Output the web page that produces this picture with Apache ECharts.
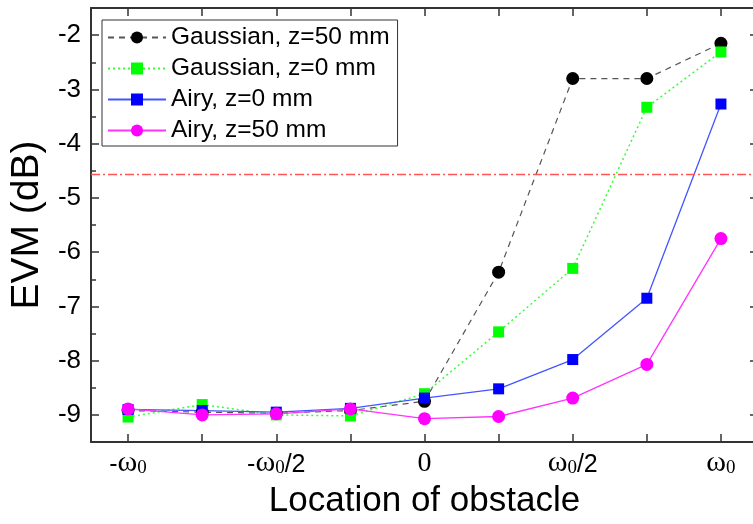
<!DOCTYPE html>
<html><head><meta charset="utf-8">
<script src="https://cdn.jsdelivr.net/npm/echarts@6/dist/echarts.min.js"></script>
<style>html,body{margin:0;padding:0;background:#fff;overflow:hidden;width:753px;height:524px}#c{width:760px;height:524px}</style>
</head><body><div id="c"></div>
<script>
// x positions in units of ω0/4
const xPositions = [-4, -3, -2, -1, 0, 1, 2, 3, 4];
const xTickValues = [-4, -2, 0, 2, 4];
const xTickLabels = ['-ω₀', '-ω₀/2', '0', 'ω₀/2', 'ω₀'];
const yTickValues = [-9, -8, -7, -6, -5, -4, -3, -2];
const yMinorValues = [-8.5, -7.5, -6.5, -5.5, -4.5, -3.5, -2.5];
const seriesNames = ['Gaussian, z=50 mm', 'Gaussian, z=0 mm', 'Airy, z=0 mm', 'Airy, z=50 mm'];
const gauss50 = [-8.92, -8.95, -8.97, -8.92, -8.75, -6.37, -2.80, -2.80, -2.15];
const gauss0 = [-9.04, -8.81, -9.00, -9.02, -8.61, -7.47, -6.30, -3.33, -2.31];
const airy0 = [-8.90, -8.92, -8.95, -8.88, -8.69, -8.52, -7.98, -6.85, -3.27];
const airy50 = [-8.89, -9.00, -8.98, -8.89, -9.07, -9.03, -8.69, -8.07, -5.75];
const thresholdLine = -4.57;

const pairs = v => xPositions.map((x, i) => [x, v[i]]);
const richLabel = s => {
  if (s === '0') return '{n|0}';
  return s.replace(/^-/, '{s|-}').replace('ω₀', '{w|ω}{z|0}').replace('/2', '{s|/2}');
};
const labelMap = {};
xTickValues.forEach((v, i) => labelMap[v] = richLabel(xTickLabels[i]));

const axisCol = '#333';
const chart = echarts.init(document.getElementById('c'));
const xBase = {
  type: 'value', min: -4.5, max: 4.5,
  axisLine: {show: true, onZero: false, lineStyle: {color: axisCol, width: 2}},
  splitLine: {show: false},
  axisTick: {show: true, inside: true, length: 8, customValues: xPositions, lineStyle: {color: axisCol, width: 1.5}}
};
const yBase = {
  type: 'value', min: -9.5, max: -1.5,
  axisLine: {show: true, onZero: false, lineStyle: {color: axisCol, width: 2}},
  splitLine: {show: false}
};
const richBase = {fontFamily: 'Liberation Serif', color: '#000', verticalAlign: 'bottom', lineHeight: 28};
chart.setOption({
  animation: false,
  grid: {left: 88, top: 8, right: 2, bottom: 77},
  legend: {
    orient: 'vertical', left: 102, top: 20,
    backgroundColor: '#fff', borderColor: '#333', borderWidth: 1,
    padding: [5, 8, 3, 5], itemGap: 6, itemWidth: 58, itemHeight: 15,
    textStyle: {fontFamily: 'Liberation Sans', fontSize: 24.5, color: '#000'},
    data: seriesNames
  },
  xAxis: [
    Object.assign({}, xBase, {
      position: 'bottom',
      name: 'Location of obstacle', nameLocation: 'middle', nameGap: 42,
      nameTextStyle: {fontFamily: 'Liberation Sans', fontSize: 35, color: '#000'},
      axisLabel: {
        show: true, margin: 8, customValues: xTickValues,
        formatter: v => labelMap[v] || '',
        rich: {
          s: Object.assign({}, richBase, {fontFamily: 'Liberation Sans', fontSize: 25}),
          w: Object.assign({}, richBase, {fontSize: 30}),
          z: Object.assign({}, richBase, {fontSize: 19}),
          n: Object.assign({}, richBase, {fontSize: 28})
        }
      }
    }),
    Object.assign({}, xBase, {position: 'top', axisLabel: {show: false}})
  ],
  yAxis: [
    Object.assign({}, yBase, {
      position: 'left',
      name: 'EVM (dB)', nameLocation: 'middle', nameGap: 40,
      nameTextStyle: {fontFamily: 'Liberation Sans', fontSize: 39, color: '#000'},
      axisTick: {show: true, inside: true, length: 8, customValues: yTickValues, lineStyle: {color: axisCol, width: 1.5}},
      axisLabel: {show: true, margin: 10, customValues: yTickValues, fontFamily: 'Liberation Sans', fontSize: 26, color: '#000'}
    }),
    Object.assign({}, yBase, {
      position: 'left', axisLine: {show: false, onZero: false},
      axisTick: {show: true, inside: true, length: 5, customValues: yMinorValues, lineStyle: {color: axisCol, width: 1.5}},
      axisLabel: {show: false}
    }),
    Object.assign({}, yBase, {
      position: 'right',
      axisTick: {show: true, inside: true, length: 8, customValues: yTickValues, lineStyle: {color: axisCol, width: 1.5}},
      axisLabel: {show: false}
    }),
    Object.assign({}, yBase, {
      position: 'right', axisLine: {show: false, onZero: false},
      axisTick: {show: true, inside: true, length: 5, customValues: yMinorValues, lineStyle: {color: axisCol, width: 1.5}},
      axisLabel: {show: false}
    })
  ],
  series: [
    {name: seriesNames[0], type: 'line', data: pairs(gauss50), symbol: 'circle', symbolSize: 13,
     itemStyle: {color: '#000'}, lineStyle: {color: '#555', width: 1.2, type: [6, 5]},
     markLine: {silent: true, symbol: 'none', label: {show: false},
       lineStyle: {color: '#ff5555', width: 1.3, type: [9, 3, 2, 3]}, data: [{yAxis: thresholdLine}]}},
    {name: seriesNames[1], type: 'line', data: pairs(gauss0), symbol: 'rect', symbolSize: 11,
     itemStyle: {color: '#00ff00'}, lineStyle: {color: '#33ff33', width: 1.5, type: [2, 3]}},
    {name: seriesNames[2], type: 'line', data: pairs(airy0), symbol: 'rect', symbolSize: 11,
     itemStyle: {color: '#0000ff'}, lineStyle: {color: '#4455ff', width: 1.3}},
    {name: seriesNames[3], type: 'line', data: pairs(airy50), symbol: 'circle', symbolSize: 13,
     itemStyle: {color: '#ff00ff'}, lineStyle: {color: '#ff33ff', width: 1.3}}
  ]
});
</script></body></html>
